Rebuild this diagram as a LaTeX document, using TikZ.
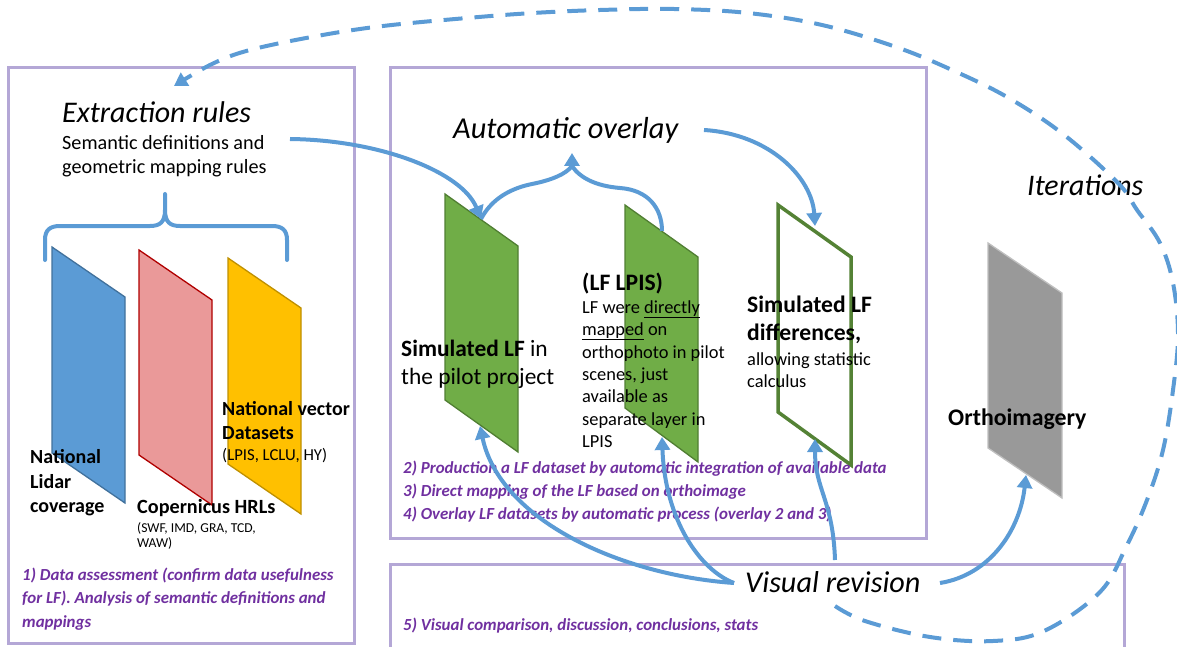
\documentclass[tikz,border=0pt]{standalone}
\usepackage{fontspec}
\setmainfont{Carlito}
\usetikzlibrary{arrows.meta}
\definecolor{panelc}{HTML}{B4A7D6}
\definecolor{flowc}{HTML}{5B9BD5}
\definecolor{notec}{HTML}{7030A0}
\definecolor{lidf}{HTML}{5B9BD5}
\definecolor{lidd}{HTML}{41719C}
\definecolor{hrlf}{HTML}{EA9999}
\definecolor{hrld}{HTML}{B00000}
\definecolor{vecf}{HTML}{FFC000}
\definecolor{vecd}{HTML}{BF9000}
\definecolor{grnf}{HTML}{70AD47}
\definecolor{grnd}{HTML}{507E32}
\definecolor{grnl}{HTML}{548235}
\definecolor{grayf}{HTML}{999999}
\definecolor{grayd}{HTML}{BFBFBF}
\newcommand\myfs[1]{\fontsize{#1}{#1}\selectfont}
\tikzset{
  panel/.style={draw=panelc, line width=3pt},
  layerbox/.style={line width=1.3pt, line join=miter},
  txt/.style={anchor=base west, inner sep=0pt, text=black},
  note/.style={txt, text=notec, font=\myfs{16.9}\bfseries\itshape},
  flow/.style={draw=flowc, line width=4pt, -{Triangle[length=13pt,width=15pt]}},
  flowline/.style={draw=flowc, line width=4pt},
  iter/.style={flow, dash pattern=on 19pt off 12pt},
}
\begin{document}
\begin{tikzpicture}[x=1pt,y=-1pt]
\useasboundingbox (0,0) rectangle (1177,647);
% panels
\draw[panel] (8,68) rectangle (354,643);
\draw[panel] (390,68) rectangle (926,538);
\draw[panel] (390,564) rectangle (1124,660);
% layers
\draw[layerbox, fill=lidf, draw=lidd] (52,247) -- (125,297) -- (125,503) -- (52,453) -- cycle;
\draw[layerbox, fill=hrlf, draw=hrld] (139,250) -- (212,300) -- (212,505) -- (139,455) -- cycle;
\draw[layerbox, fill=vecf, draw=vecd] (228,258) -- (301,308) -- (301,514) -- (228,464) -- cycle;
\draw[layerbox, fill=grnf, draw=grnd] (445,194) -- (518,246) -- (518,452) -- (445,400) -- cycle;
\draw[layerbox, fill=grnf, draw=grnd] (625,205) -- (698,257) -- (698,462) -- (625,408) -- cycle;
\draw[line width=3.5pt, draw=grnl, fill=white] (778,205) -- (851,257) -- (851,465) -- (778,412) -- cycle;
\draw[layerbox, fill=grayf, draw=grayd] (988,243) -- (1062,293) -- (1062,498) -- (988,448) -- cycle;
% texts
\node[txt, font=\myfs{30}\itshape] (extr) at (62,123) {Extraction rules};
\node[txt, font=\myfs{20.2}] (sem1) at (62,150) {Semantic definitions and};
\node[txt, font=\myfs{20.2}] (sem2) at (62,174) {geometric mapping rules};
\node[txt, font=\myfs{20}\bfseries] (lid1) at (30,463) {National};
\node[txt, font=\myfs{20}\bfseries] (lid2) at (30,488) {Lidar};
\node[txt, font=\myfs{20}\bfseries] (lid3) at (30,512) {coverage};
\node[txt, font=\myfs{20.2}\bfseries] (cop1) at (137,513) {Copernicus HRLs};
\node[txt, font=\myfs{13.6}] (cop2) at (137,532) {(SWF, IMD, GRA, TCD,};
\node[txt, font=\myfs{13.6}] (cop3) at (137,547) {WAW)};
\node[txt, font=\myfs{20}\bfseries] (vec1) at (222,415) {National vector};
\node[txt, font=\myfs{20}\bfseries] (vec2) at (222,439) {Datasets};
\node[txt, font=\myfs{16.7}] (vec3) at (222,460) {(LPIS, LCLU, HY)};
\node[note] (n1a) at (22,580) {1) Data assessment (confirm data usefulness};
\node[note] (n1b) at (22,603) {for LF). Analysis of semantic definitions and};
\node[note] (n1c) at (22,627) {mappings};
\node[txt, font=\myfs{30.4}\itshape] (auto) at (453,139) {Automatic overlay};
\node[txt, font=\myfs{23.4}] (sim1) at (401,356) {\textbf{Simulated LF} in};
\node[txt, font=\myfs{23.4}] (sim2) at (401,384) {the pilot project};
\node[txt, font=\myfs{23.6}\bfseries] (lpis) at (582,290) {(LF LPIS)};
\node[txt, font=\myfs{18.4}] (lp1) at (582,313) {LF were \underline{directly}};
\node[txt, font=\myfs{18.4}] (lp2) at (582,335) {\underline{mapped} on};
\node[txt, font=\myfs{18.4}] (lp3) at (582,358) {orthophoto in pilot};
\node[txt, font=\myfs{18.4}] (lp4) at (582,380) {scenes, just};
\node[txt, font=\myfs{18.4}] (lp5) at (582,402) {available as};
\node[txt, font=\myfs{18.4}] (lp6) at (582,425) {separate layer in};
\node[txt, font=\myfs{18.4}] (lp7) at (582,447) {LPIS};
\node[txt, font=\myfs{23.6}\bfseries] (dif1) at (747,312) {Simulated LF};
\node[txt, font=\myfs{23.6}\bfseries] (dif2) at (747,340) {differences,};
\node[txt, font=\myfs{18.4}] (dif3) at (747,365) {allowing statistic};
\node[txt, font=\myfs{18.4}] (dif4) at (747,387) {calculus};
\node[note] (n2) at (403,473) {2) Production a LF dataset by automatic integration of available data};
\node[note] (n3) at (403,496) {3) Direct mapping of the LF based on orthoimage};
\node[note] (n4) at (403,519) {4) Overlay LF datasets by automatic process (overlay 2 and 3)};
\node[txt, font=\myfs{23.8}\bfseries] (ortho) at (948,425) {Orthoimagery};
\node[txt, font=\myfs{29.9}\itshape] (itr) at (1027,196) {Iterations};
\node[txt, font=\myfs{30.2}\itshape] (vis) at (745,592) {Visual revision};
\node[note] (n5) at (403,630) {5) Visual comparison, discussion, conclusions, stats};
% connector end points
\coordinate (semR) at (290,139);
\coordinate (g1top) at (481,219);
\coordinate (g2top) at (662,231);
\coordinate (apex) at (572,166);
\coordinate (apexTip) at (572,153);
\coordinate (autoR) at (704,130);
\coordinate (g3top) at (815,226);
\coordinate (visL) at (734,583);
\coordinate (visTop) at (835,560);
\coordinate (visR) at (940,583);
\coordinate (g1bot) at (480,426);
\coordinate (g2bot) at (662,437);
\coordinate (g3bot) at (815,439);
\coordinate (grbot) at (1026,475);
\coordinate (loopS) at (835,606);
\coordinate (extrTip) at (170,87);
% brace in left panel
\draw[flowline, line cap=round] (45,260) -- (45,240) .. controls (45,230) and (50,226) .. (60,226) -- (150,226)
  .. controls (160,226) and (165,222) .. (165,210) -- (165,194);
\draw[flowline, line cap=round] (165,210) .. controls (165,222) and (170,226) .. (180,226) -- (272,226)
  .. controls (282,226) and (287,230) .. (287,240) -- (287,260);
% connectors
\draw[flow] (semR) .. controls (380,140) and (462,172) .. (g1top);
\draw[flowline] (g1top) .. controls (492,198) and (512,188) .. (532,184) .. controls (552,180) and (566,174) .. (apex);
\draw[flowline] (g2top) .. controls (662,208) and (648,190) .. (620,188) .. controls (596,186) and (580,178) .. (apex);
\draw[flow] (apex) -- (apexTip);
\draw[flow] (autoR) .. controls (770,134) and (812,178) .. (g3top);
\draw[flow] (visL) .. controls (620,575) and (500,520) .. (g1bot);
\draw[flow] (visL) .. controls (700,570) and (665,520) .. (g2bot);
\draw[flow] (visTop) .. controls (833,500) and (815,490) .. (g3bot);
\draw[flow] (visR) .. controls (990,575) and (1020,530) .. (grbot);
\draw[iter] plot[smooth, tension=0.6] coordinates {(835,606) (865,621) (930,637) (993,641) (1044,631) (1100,592) (1127,545) (1147,500) (1163,450) (1173,390) (1178,335) (1173,283) (1160,243) (1137,210) (1118,183) (1063,134) (1007,97) (952,70) (896,47) (822,25) (748,13) (674,9) (600,10) (533,13) (467,18) (383,26) (317,36) (250,50) (212,64) (174,86)};
\end{tikzpicture}
\end{document}
